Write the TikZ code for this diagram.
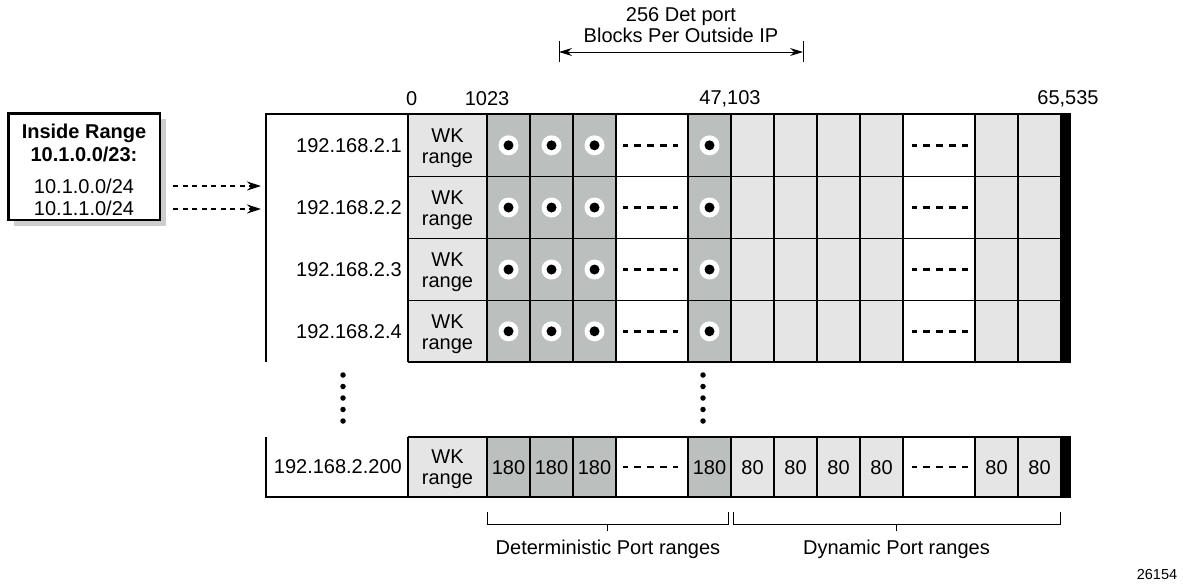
\documentclass[tikz,border=0pt]{standalone}
\usepackage{fontspec}
\setmainfont{Liberation Sans}
\usetikzlibrary{arrows.meta}
\definecolor{detgray}{RGB}{187,192,191}
\definecolor{lightcell}{RGB}{229,229,229}
\definecolor{shadowgray}{RGB}{205,205,205}
\begin{document}
\begin{tikzpicture}[x=1pt,y=-1pt,
  font=\fontsize{20}{21}\selectfont,
  grid/.style={line width=1.3pt},
  outer/.style={line width=2.2pt},
  txt/.style={inner sep=0pt},
  dashfill/.style={line width=2.5pt, dash pattern=on 7pt off 6pt, dash phase=2pt},
  vdot/.style={circle, fill=black, inner sep=0pt, minimum size=5.5pt},
  brace/.style={line width=1pt}]
\useasboundingbox (0,0) rectangle (1183,584);

% ---- fills for the four top rows and the last row
\foreach \yt/\yb in {114/362, 437/497}{
  \fill[lightcell] (408,\yt) rectangle (487,\yb);
  \fill[detgray] (487,\yt) rectangle (616,\yb);
  \fill[detgray] (688,\yt) rectangle (731,\yb);
  \fill[lightcell] (731,\yt) rectangle (903,\yb);
  \fill[lightcell] (975,\yt) rectangle (1061,\yb);
  \fill[black] (1061,\yt) rectangle (1071,\yb);
  \foreach \x in {408,487,530,573,616,688,731,774,817,860,903,975,1018,1061}
    \draw[grid] (\x,\yt) -- (\x,\yb);
}
\foreach \y in {176.5,238.5,300.5}
  \draw[grid] (408,\y) -- (1061,\y);
% outer borders
\draw[outer] (266,362) -- (266,114) -- (1071,114);
\draw[outer] (408,362) -- (1071,362);
\draw[outer] (408,437) -- (1071,437);
\draw[outer] (266,437) -- (266,497) -- (1071,497);

% ---- row labels and contents
\foreach \yc/\ip [count=\r] in {145.3/192.168.2.1, 207.5/192.168.2.2, 269.5/192.168.2.3, 331.3/192.168.2.4}{
  \node[txt, anchor=east] (ip\r) at (402,\yc) {\ip};
  \node[txt, align=center] (wk\r) at (447.5,\yc+3) {WK\\range};
  \foreach \x [count=\k] in {508.5,551.5,594.5,709.5}{
    \node[circle, fill=white, inner sep=0pt, minimum size=20pt] (o\r-\k) at (\x,\yc) {};
    \node[circle, fill=black, inner sep=0pt, minimum size=10pt] (d\r-\k) at (\x,\yc) {};
  }
  \draw[dashfill] (622.7,\yc) -- (678.3,\yc);
  \draw[dashfill] (912,\yc) -- (967.6,\yc);
}
% last row
\node[txt, anchor=east] (ip200) at (402,467) {192.168.2.200};
\node[txt, align=center] (wk200) at (447.5,469.5) {WK\\range};
\foreach \x [count=\k] in {508.5,551.5,594.5,709.5}
  \node[txt] (n180-\k) at (\x,468) {180};
\foreach \x [count=\k] in {752.5,795.5,838.5,881.5,996.5,1039.5}
  \node[txt] (n80-\k) at (\x,468) {80};
\draw[dashfill] (622.7,467) -- (678.3,467);
\draw[dashfill] (912,467) -- (967.6,467);

% vertical ellipsis dots
\foreach \y [count=\k] in {375,386.5,398,409.5,421}{
  \node[vdot] (va\k) at (343,\y) {};
  \node[vdot] (vb\k) at (703,\y) {};
}

% ---- port scale labels
\node[txt] (p0) at (411.7,99) {0};
\node[txt] (p1023) at (487,99) {1023};
\node[txt] (p47103) at (730,99) {47,103};
\node[txt] (p65535) at (1068,99) {65,535};

% ---- top dimension
\coordinate (dl) at (559,52);
\coordinate (dr) at (803,52);
\draw[line width=1pt] (559,41) -- (559,62);
\draw[line width=1pt] (803,41) -- (803,62);
\draw[line width=1pt, {Stealth[length=13pt,width=8pt]}-{Stealth[length=13pt,width=8pt]}] (dl) -- (dr);
\node[txt, align=center] (dimlbl) at (681,25) {256 Det port\\Blocks Per Outside IP};

% ---- inside range box
\fill[shadowgray] (14,119) rectangle (166,226);
\draw[line width=2.6pt, fill=white] (8.5,113.5) rectangle (160,220);
\node[txt, align=center, font=\bfseries\fontsize{20}{23}\selectfont] (inside) at (84,143) {Inside Range\\10.1.0.0/23:};
\node[txt] (net0) at (84,186) {10.1.0.0/24};
\node[txt] (net1) at (84,208) {10.1.1.0/24};
\coordinate (a0s) at (173,186);
\coordinate (a0e) at (261,186);
\coordinate (a1s) at (173,209);
\coordinate (a1e) at (261,209);
\draw[line width=1.3pt, dash pattern=on 5pt off 4.5pt, -{Stealth[length=14pt,width=9pt]}] (a0s) -- (a0e);
\draw[line width=1.3pt, dash pattern=on 5pt off 4.5pt, -{Stealth[length=14pt,width=9pt]}] (a1s) -- (a1e);

% ---- bottom braces
\draw[brace] (487,512) -- (487,524) -- (728,524) -- (728,512);
\draw[brace] (607.5,524) -- (607.5,531);
\draw[brace] (733,512) -- (733,524) -- (1060,524) -- (1060,512);
\draw[brace] (896.5,524) -- (896.5,531);
\node[txt] (detlbl) at (608,549) {Deterministic Port ranges};
\node[txt] (dynlbl) at (896.5,549) {Dynamic Port ranges};

\node[txt, font=\fontsize{14.5}{16}\selectfont] (fig) at (1157,574) {26154};
\end{tikzpicture}
\end{document}
